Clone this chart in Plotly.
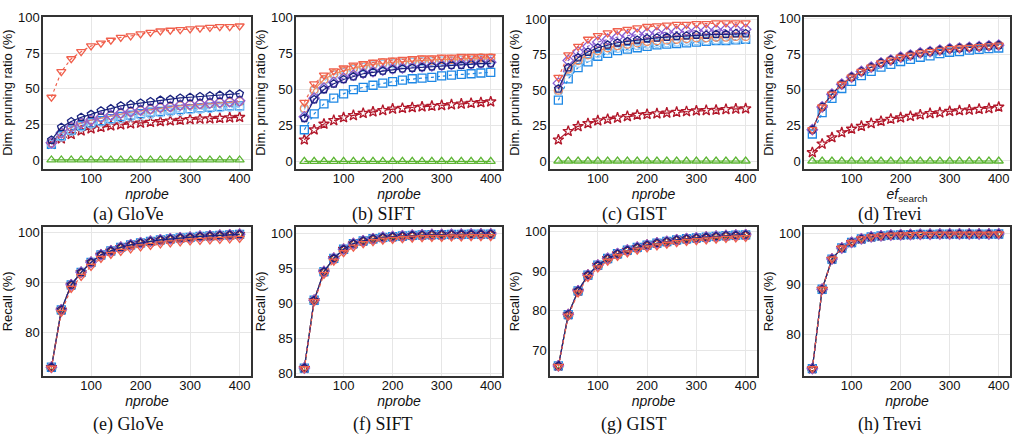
import plotly.graph_objects as go

X = [20, 40, 60, 80, 100, 120, 140, 160, 180, 200, 220, 240, 260, 280, 300, 320, 340, 360, 380, 400]

# ---------- Dim. pruning ratio (%) ----------
# GloVe
GLOVE_GREEN = [0] * 20
GLOVE_STAR = [11, 15, 18, 20.5, 22, 23, 24, 24.8, 25.5, 26, 26.5, 27, 27.5, 28, 28.5, 28.8, 29, 29.3, 29.7, 30]
GLOVE_SQUARE = [11, 17, 21, 24, 26, 27.5, 29, 30.5, 31.5, 32.5, 33.5, 34, 35, 35.5, 36, 36.5, 37, 37.5, 38, 38]
GLOVE_LCIRCLE = [11, 16, 20, 23, 25, 26.5, 28, 29, 30, 31, 32, 33, 33.5, 34, 35, 35.5, 36, 36.5, 37, 37]
GLOVE_OCIRCLE = [12, 19, 23, 26, 28, 29.5, 31, 32.5, 33.5, 34.5, 35.5, 36.5, 37, 38, 38.5, 39, 39.5, 40, 40.5, 41]
GLOVE_DIAMOND = [12, 19, 23, 26, 28, 30, 31.5, 33, 34, 35, 36, 37, 37.5, 38.5, 39, 39.5, 40, 40.5, 41, 41.5]
GLOVE_NAVY = [14, 23, 27, 30, 32, 34.5, 36, 38, 39, 40, 41, 42, 42.5, 43.5, 44, 44.5, 45, 45.5, 46, 46.5]
GLOVE_TRIDOWN = [44, 62, 71, 76, 80, 82, 84, 86, 87, 88.5, 89.5, 90.5, 91, 91.5, 92, 92.5, 93, 93.5, 93.5, 94]

# SIFT
SIFT_GREEN = [0] * 20
SIFT_STAR = [15, 22, 26, 28.5, 30.5, 32, 33.5, 34.5, 35.5, 36.5, 37, 37.5, 38, 38.5, 39, 39.5, 40, 40.5, 41, 41.5]
SIFT_SQUARE = [22, 33, 40, 44, 47, 50, 51.5, 53, 54.5, 55.5, 56.5, 57.5, 58, 58.5, 59.5, 60, 60.5, 61, 61.5, 62]
SIFT_LCIRCLE = [36, 49, 56, 60, 62, 64, 65.5, 66.5, 67.5, 68, 68.5, 69, 69.5, 69.5, 70, 70, 70.5, 70.5, 71, 71]
SIFT_OCIRCLE = [37, 50, 57, 61, 63, 65, 66.5, 67.5, 68.5, 69, 69.5, 70, 70.5, 70.5, 71, 71, 71.5, 71.5, 72, 72]
SIFT_DIAMOND = [31, 44, 51, 55, 58, 60, 61.5, 62.5, 63.5, 64.5, 65, 65.5, 66, 66.5, 67, 67.5, 68, 68, 68.5, 69]
SIFT_NAVY = [30, 43, 50, 54, 57, 59, 61, 62, 63, 64, 64.5, 65, 65.5, 66, 66.5, 67, 67, 67.5, 68, 68]
SIFT_TRIDOWN = [41, 54, 60, 63, 65, 67, 68, 69, 70, 70.5, 71, 71.5, 72, 72, 72.5, 72.5, 73, 73, 73, 73]

# GIST
GIST_GREEN = [0] * 20
GIST_STAR = [15, 21, 24.5, 26.5, 28.5, 29.5, 30.5, 31.5, 32.5, 33, 33.5, 34, 34.5, 35, 35.5, 35.8, 36, 36.5, 36.8, 37]
GIST_SQUARE = [43, 58, 66, 70, 74, 76, 78, 79, 80, 81, 82, 82.5, 83, 83.5, 84, 84.5, 85, 85, 85.5, 86]
GIST_LCIRCLE = [49, 63, 69, 73, 76, 78, 79.5, 80.5, 81.5, 82.5, 83, 83.5, 84, 84.5, 85, 85, 85.5, 85.5, 86, 86]
GIST_OCIRCLE = [50, 65, 71, 75, 78, 80, 81.5, 82.5, 83.5, 84.5, 85, 85.5, 86, 86.5, 87, 87, 87.5, 87.5, 88, 88]
GIST_DIAMOND = [55, 71, 77, 81, 84, 86, 87.5, 88.5, 89.5, 90, 90.5, 91, 91.5, 92, 92, 92.5, 92.5, 93, 93, 93]
GIST_NAVY = [51, 66, 73, 77, 80, 82, 83.5, 84.5, 85.5, 86.5, 87, 87.5, 88, 88.5, 89, 89, 89.5, 89.5, 90, 90]
GIST_TRIDOWN = [59, 75, 81, 86, 88.5, 90.5, 92, 93, 94, 95, 95.5, 96, 96.5, 96.5, 97, 97, 97.5, 97.5, 97.5, 97.5]

# Trevi
TREVI_GREEN = [0] * 20
TREVI_STAR = [6, 12, 16.5, 20, 22.5, 24.5, 26.5, 28, 29.5, 30.5, 31.5, 32.5, 33.5, 34, 35, 35.5, 36, 36.5, 37, 38]
TREVI_SQUARE = [19, 34, 44, 51, 56, 60, 63, 66, 68, 70, 71.5, 73, 74, 75.5, 76.5, 77, 78, 78.5, 79, 79.5]
TREVI_MAIN = [22, 38, 47, 54, 59, 63, 66, 69, 71, 73, 74.5, 76, 77, 78, 79, 79.5, 80, 80.5, 81, 81.5]

# ---------- Recall (%) ----------
RECALL_GLOVE = [73, 84.5, 89.5, 92, 94, 95.5, 96.3, 97, 97.5, 97.9, 98.2, 98.5, 98.7, 98.9, 99.0, 99.2, 99.3, 99.4, 99.5, 99.6]
RECALL_GLOVE_TRIDOWN = [72.8, 84, 88.8, 91.2, 93.2, 94.8, 95.6, 96.2, 96.7, 97.1, 97.4, 97.7, 97.9, 98.1, 98.3, 98.4, 98.5, 98.6, 98.7, 98.8]
RECALL_SIFT = [80.8, 90.5, 94.6, 96.5, 97.8, 98.6, 99.0, 99.3, 99.5, 99.6, 99.7, 99.8, 99.85, 99.9, 99.9, 99.92, 99.94, 99.95, 99.96, 99.97]
RECALL_SIFT_TRIDOWN = [80.7, 90.3, 94.2, 96.1, 97.3, 98.1, 98.6, 98.9, 99.1, 99.2, 99.3, 99.4, 99.45, 99.5, 99.5, 99.55, 99.55, 99.6, 99.6, 99.6]
RECALL_GIST = [66, 79, 85, 89, 91.5, 93.2, 94.4, 95.3, 96, 96.6, 97.1, 97.5, 97.9, 98.2, 98.4, 98.6, 98.8, 99, 99.1, 99.2]
RECALL_GIST_TRIDOWN = [65.8, 78.6, 84.5, 88.4, 90.8, 92.5, 93.7, 94.6, 95.3, 95.9, 96.4, 96.8, 97.2, 97.5, 97.7, 97.9, 98.1, 98.3, 98.4, 98.5]
RECALL_TREVI = [73.2, 89, 95, 97.2, 98.3, 99, 99.4, 99.6, 99.75, 99.82, 99.87, 99.9, 99.93, 99.95, 99.96, 99.97, 99.97, 99.98, 99.98, 99.99]

CAPTIONS_TOP = ["(a) GloVe", "(b) SIFT", "(c) GIST", "(d) Trevi"]
CAPTIONS_BOTTOM = ["(e) GloVe", "(f) SIFT", "(g) GIST", "(h) Trevi"]

# series styles: (color, marker symbol, dash)
STYLES = {
    "green": ("#5cb533", "triangle-up-open", "solid"),
    "star": ("#b2182b", "star-open", "dash"),
    "square": ("#1e88e5", "square-open", "dot"),
    "lcircle": ("#90c8f5", "circle-open", "dot"),
    "ocircle": ("#f08a5d", "circle-open", "solid"),
    "diamond": ("#8a5fd3", "diamond-open", "dot"),
    "navy": ("#1a237e", "pentagon-open", "solid"),
    "tridown": ("#f0604d", "triangle-down-open", "dot"),
}
ORDER = ["green", "star", "square", "lcircle", "ocircle", "diamond", "navy", "tridown"]

top_data = [
    dict(green=GLOVE_GREEN, star=GLOVE_STAR, square=GLOVE_SQUARE, lcircle=GLOVE_LCIRCLE,
         ocircle=GLOVE_OCIRCLE, diamond=GLOVE_DIAMOND, navy=GLOVE_NAVY, tridown=GLOVE_TRIDOWN),
    dict(green=SIFT_GREEN, star=SIFT_STAR, square=SIFT_SQUARE, lcircle=SIFT_LCIRCLE,
         ocircle=SIFT_OCIRCLE, diamond=SIFT_DIAMOND, navy=SIFT_NAVY, tridown=SIFT_TRIDOWN),
    dict(green=GIST_GREEN, star=GIST_STAR, square=GIST_SQUARE, lcircle=GIST_LCIRCLE,
         ocircle=GIST_OCIRCLE, diamond=GIST_DIAMOND, navy=GIST_NAVY, tridown=GIST_TRIDOWN),
    dict(green=TREVI_GREEN, star=TREVI_STAR, square=TREVI_SQUARE, lcircle=TREVI_MAIN,
         ocircle=TREVI_MAIN, diamond=TREVI_MAIN, navy=TREVI_MAIN, tridown=TREVI_MAIN),
]
bottom_data = [
    dict(green=RECALL_GLOVE, star=RECALL_GLOVE, square=RECALL_GLOVE, lcircle=RECALL_GLOVE,
         ocircle=RECALL_GLOVE, diamond=RECALL_GLOVE, navy=RECALL_GLOVE, tridown=RECALL_GLOVE_TRIDOWN),
    dict(green=RECALL_SIFT, star=RECALL_SIFT, square=RECALL_SIFT, lcircle=RECALL_SIFT,
         ocircle=RECALL_SIFT, diamond=RECALL_SIFT, navy=RECALL_SIFT, tridown=RECALL_SIFT_TRIDOWN),
    dict(green=RECALL_GIST, star=RECALL_GIST, square=RECALL_GIST, lcircle=RECALL_GIST,
         ocircle=RECALL_GIST, diamond=RECALL_GIST, navy=RECALL_GIST, tridown=RECALL_GIST_TRIDOWN),
    dict(green=RECALL_TREVI, star=RECALL_TREVI, square=RECALL_TREVI, lcircle=RECALL_TREVI,
         ocircle=RECALL_TREVI, diamond=RECALL_TREVI, navy=RECALL_TREVI, tridown=RECALL_TREVI),
]

W, H = 1017, 444
col_px = [(43, 251), (296, 502), (550, 757), (804, 1010)]
caption_cx = [128, 383, 634, 890]
top_py = (10, 166)
bot_py = (226, 379)

top_yranges = [[-6, 100.5], [-5, 100.7], [-5.3, 101.9], [-5.3, 101.5]]
bot_yranges = [[71.3, 101.1], [79.7, 101.0], [63.5, 101.2], [71.8, 101.4]]
bot_ticks = [[80, 90, 100], [80, 85, 90, 95, 100], [70, 80, 90, 100], [80, 90, 100]]

FONT = "Liberation Sans, Arial, sans-serif"
fig = go.Figure()
layout = dict(width=W, height=H, margin=dict(l=0, r=0, t=0, b=0),
              paper_bgcolor="white", plot_bgcolor="white", showlegend=False,
              font=dict(family=FONT, size=13, color="#111"))
annotations = []

def add_axes(idx, cx, py, yrange, yticks, ytitle, xtitle):
    xa = "xaxis" if idx == 1 else f"xaxis{idx}"
    ya = "yaxis" if idx == 1 else f"yaxis{idx}"
    common = dict(showline=True, mirror=True, linecolor="#333", linewidth=1.5,
                  showgrid=True, gridcolor="#e6e6e6", gridwidth=1, zeroline=False,
                  ticks="", tickfont=dict(size=13, color="#111"))
    layout[xa] = dict(domain=[cx[0] / W, cx[1] / W], range=[3, 423], anchor=f"y{idx}",
                      tickvals=[100, 200, 300, 400], ticklabelstandoff=-3,
                      title=dict(text=xtitle, font=dict(size=14), standoff=0), **common)
    layout[ya] = dict(domain=[1 - py[1] / H, 1 - py[0] / H], range=yrange, anchor=f"x{idx}",
                      tickvals=yticks, ticklabelstandoff=-1,
                      title=dict(text=ytitle, font=dict(size=13), standoff=2), **common)

MARKER_SIZE = {"star": 8}
CAP_FONT = dict(family="Liberation Serif, Times New Roman, serif", size=18, color="#111")
idx = 0
for c in range(4):
    idx += 1
    xt = "<i>ef</i><sub>search</sub>" if c == 3 else "<i>nprobe</i>"
    add_axes(idx, col_px[c], top_py, top_yranges[c], [0, 25, 50, 75, 100], "Dim. pruning ratio (%)", xt)
    for key in ORDER:
        color, sym, dash = STYLES[key]
        fig.add_trace(go.Scatter(x=X, y=top_data[c][key], mode="lines+markers",
                                 xaxis=f"x{idx}", yaxis=f"y{idx}",
                                 line=dict(color=color, width=1.2, dash=dash),
                                 marker=dict(symbol=sym, size=MARKER_SIZE.get(key, 8), color=color,
                                             line=dict(width=1.3, color=color))))
    annotations.append(dict(text=CAPTIONS_TOP[c], x=caption_cx[c] / W, y=1 - 213 / H,
                            xref="paper", yref="paper", showarrow=False, xanchor="center", yanchor="middle",
                            font=CAP_FONT))

for c in range(4):
    idx += 1
    add_axes(idx, col_px[c], bot_py, bot_yranges[c], bot_ticks[c], "Recall (%)", "<i>nprobe</i>")
    for key in ORDER:
        color, sym, dash = STYLES[key]
        fig.add_trace(go.Scatter(x=X, y=bottom_data[c][key], mode="lines+markers",
                                 xaxis=f"x{idx}", yaxis=f"y{idx}",
                                 line=dict(color=color, width=1.2, dash=dash),
                                 marker=dict(symbol=sym, size=MARKER_SIZE.get(key, 8), color=color,
                                             line=dict(width=1.3, color=color))))
    annotations.append(dict(text=CAPTIONS_BOTTOM[c], x=caption_cx[c] / W, y=1 - 429 / H,
                            xref="paper", yref="paper", showarrow=False, xanchor="center", yanchor="middle",
                            font=CAP_FONT))

layout["annotations"] = annotations
fig.update_layout(**layout)
fig.write_html("out.html")
